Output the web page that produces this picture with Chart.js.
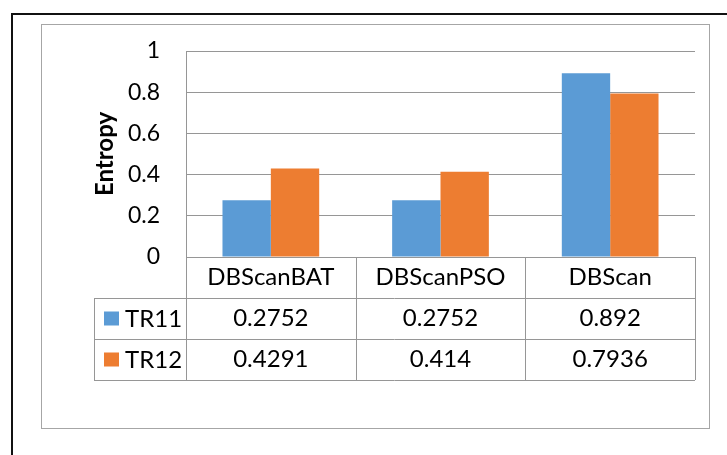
<!DOCTYPE html>
<html>
<head>
<meta charset="utf-8">
<script src="https://cdn.jsdelivr.net/npm/chart.js@4/dist/chart.umd.min.js"></script>
<style>
  body { margin: 0; background: #fff; }
  #wrap { position: relative; width: 727px; height: 455px; overflow: hidden; }
  #outer { position: absolute; left: 11px; top: 13px; width: 900px; height: 700px;
           border-left: 2px solid #111; border-top: 2px solid #111; }
  #inner { position: absolute; left: 41px; top: 24px; width: 667px; height: 403px;
           border: 1px solid #a6a6a6; }
  #chart { position: absolute; left: 0; top: 0; }
</style>
</head>
<body>
<div id="wrap">
  <div id="outer"></div>
  <div id="inner"></div>
  <canvas id="chart" width="727" height="455"></canvas>
</div>
<script>
var categories = ['DBScanBAT', 'DBScanPSO', 'DBScan'];
var seriesNames = ['TR11', 'TR12'];
var tr11 = [0.2752, 0.2752, 0.892];
var tr12 = [0.4291, 0.414, 0.7936];
var yTicks = [0, 0.2, 0.4, 0.6, 0.8, 1];
var colors = ['#5B9BD5', '#ED7D31'];

var lineColor = '#969696';
var fontFamily = 'Lato, "Open Sans", sans-serif';

// draws the data table under the plot (Excel style)
var dataTable = {
    id: 'dataTable',
    afterDraw: function(chart) {
        var ctx = chart.ctx;
        var ca = chart.chartArea;
        var xs = chart.scales.x;
        var colW = ca.width / categories.length;
        var rowH = 41;
        var top = ca.bottom;
        var legendLeft = 94;
        var series = [tr11, tr12];

        ctx.save();
        ctx.strokeStyle = lineColor;
        ctx.lineWidth = 1;
        ctx.beginPath();
        for (var r = 0; r <= 3; r++) {
            var y = Math.round(top + r * rowH) + 0.5;
            ctx.moveTo(r == 0 ? ca.left : legendLeft, y);
            ctx.lineTo(ca.right, y);
        }
        for (var c = 0; c <= categories.length; c++) {
            var x = Math.round(ca.left + c * colW) + 0.5;
            ctx.moveTo(x, top);
            ctx.lineTo(x, top + 3 * rowH);
        }
        ctx.moveTo(legendLeft + 0.5, top + rowH);
        ctx.lineTo(legendLeft + 0.5, top + 3 * rowH);
        ctx.stroke();

        ctx.fillStyle = '#000';
        ctx.font = '24px ' + fontFamily;
        ctx.textBaseline = 'middle';
        ctx.textAlign = 'center';
        for (var i = 0; i < categories.length; i++) {
            var cx = xs.getPixelForValue(i);
            ctx.fillText(categories[i], cx, top + rowH / 2);
            for (var s = 0; s < series.length; s++) {
                ctx.fillText(String(series[s][i]), cx, top + rowH * (s + 1.5));
            }
        }
        ctx.textAlign = 'left';
        for (var s = 0; s < seriesNames.length; s++) {
            var cy = top + rowH * (s + 1.5);
            ctx.fillStyle = colors[s];
            ctx.fillRect(104, cy - 7, 15, 14);
            ctx.fillStyle = '#000';
            ctx.fillText(seriesNames[s], 125, cy + 1);
        }
        ctx.restore();
    }
};

var chart = new Chart(document.getElementById('chart'), {
    type: 'bar',
    data: {
        labels: categories,
        datasets: [
            { label: seriesNames[0], data: tr11, backgroundColor: colors[0] },
            { label: seriesNames[1], data: tr12, backgroundColor: colors[1] }
        ]
    },
    options: {
        responsive: false,
        animation: false,
        layout: { padding: { left: 0, right: 32, top: 51, bottom: 198 } },
        datasets: { bar: { categoryPercentage: 0.57, barPercentage: 1.0 } },
        plugins: { legend: { display: false }, tooltip: { enabled: false } },
        scales: {
            x: { display: false },
            y: {
                min: 0,
                max: 1,
                afterFit: function(scale) { scale.width = 186; },
                afterBuildTicks: function(scale) {
                    scale.ticks = yTicks.map(function(v) { return { value: v }; });
                },
                ticks: {
                    padding: 26,
                    color: '#000',
                    font: { family: fontFamily, size: 23 },
                    callback: function(v) { return String(v); }
                },
                grid: { color: lineColor, drawTicks: false },
                border: { display: true, color: lineColor },
                title: {
                    display: true,
                    text: 'Entropy',
                    color: '#000',
                    font: { family: fontFamily, size: 24, weight: 'bold' },
                    padding: { top: 91, bottom: 0 }
                }
            }
        }
    },
    plugins: [dataTable]
});
</script>
</body>
</html>
